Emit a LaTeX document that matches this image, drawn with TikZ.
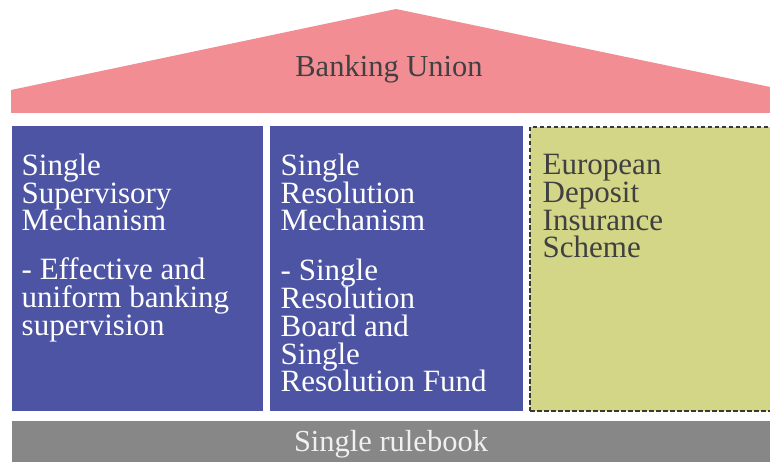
\documentclass[tikz,border=0pt]{standalone}
\usepackage{fontspec}
\setmainfont{Liberation Serif}
\definecolor{roofpink}{HTML}{F18D93}
\definecolor{pillarblue}{HTML}{4D54A3}
\definecolor{pillargreen}{HTML}{D3D587}
\definecolor{basegray}{HTML}{878787}
\definecolor{darktext}{HTML}{404040}
\definecolor{dashgray}{HTML}{383838}
\newcommand{\pillarfont}{\fontsize{31}{27.7}\selectfont\lineskiplimit=-40pt\relax\lineskip=0pt\relax}
\begin{document}
\begin{tikzpicture}[x=1pt,y=-1pt,
  pillar/.style={anchor=north west, inner sep=0pt, outer sep=0pt, draw=none},
  pillartext/.style={anchor=base west, inner sep=0pt, outer sep=0pt, align=left,
     font=\pillarfont},
  bigtext/.style={anchor=base, inner sep=0pt, outer sep=0pt, font=\fontsize{30.5}{34}\selectfont}
]
\useasboundingbox (0,0) rectangle (770,462);
% roof
\fill[roofpink] (11,113) -- (11,90) -- (396,9) -- (775,88) -- (775,113) -- cycle;
\node[bigtext, text=darktext] (roof) at (389,76.7) {Banking Union};
% pillars
\node[pillar, fill=pillarblue, minimum width=251pt, minimum height=285pt] (ssm) at (12,126) {};
\node[pillar, fill=pillarblue, minimum width=253pt, minimum height=285pt] (srm) at (270,126) {};
\node[pillar, fill=pillargreen, draw=dashgray, line width=2.2pt, dash pattern=on 4.5pt off 2.5pt,
      minimum width=250pt, minimum height=284pt] (edis) at (530,127) {};
% texts (anchored at the baseline of their last line)
\node[pillartext, text=white] (ssmtext) at (21.7,335) {Single\\Supervisory\\Mechanism\\[21pt]- Effective and\\uniform banking\\supervision};
\node[pillartext, text=white] (srmtext) at (280.7,391.7) {Single\\Resolution\\Mechanism\\[22.5pt]- Single\\Resolution\\Board and\\Single\\Resolution Fund};
\node[pillartext, text=darktext] (edistext) at (542.7,258) {European\\Deposit\\Insurance\\Scheme};
% base
\node[pillar, fill=basegray, minimum width=765pt, minimum height=45pt] (rulebook) at (12,421) {};
\node[bigtext, text=white!94!black] (rulebooktext) at (391,451.7) {Single rulebook};
\end{tikzpicture}
\end{document}
